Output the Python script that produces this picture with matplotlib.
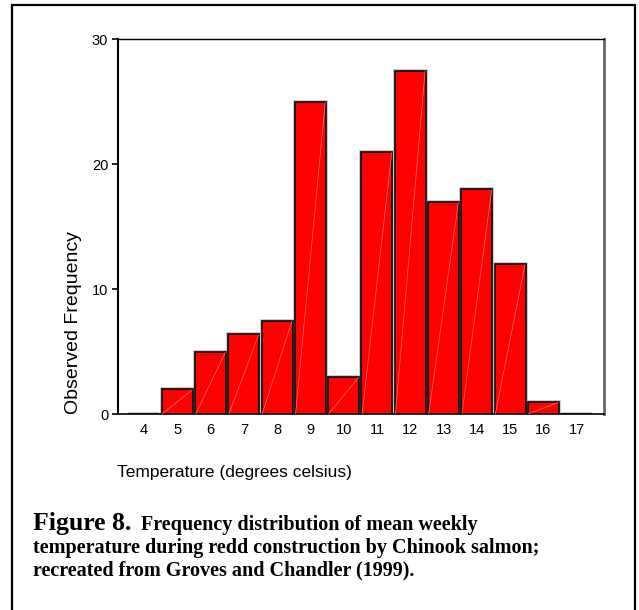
import numpy as np
import matplotlib
matplotlib.use("Agg")
import matplotlib.pyplot as plt
from matplotlib.patches import Rectangle

# weekly mean temperature (deg C) and observed frequency
temps = [4, 5, 6, 7, 8, 9, 10, 11, 12, 13, 14, 15, 16, 17]
freq = [0, 2, 5, 6.4, 7.5, 25, 3, 21, 27.5, 17, 18, 12, 1, 0]
yticks = [0, 10, 20, 30]

W, H = 639, 610
fig = plt.figure(figsize=(W/100, H/100), dpi=100)
plt.rcParams['font.family'] = ['Liberation Sans', 'DejaVu Sans']

def px(x, y):
    return x/W, 1 - y/H

l, t = px(118, 39.3)
r, b = px(604, 414.3)
ax = fig.add_axes([l, b, r-l, t-b])

bw = 0.93
x = np.array(temps)
y = np.array(freq)
# gray shadow edge, then the red bars
ax.bar(x, y, width=bw, color='none', edgecolor='#c0c0c0', linewidth=2.6, zorder=2)
ax.bar(x, y, width=bw, color='#ff0000', edgecolor='#111111', linewidth=1.3, zorder=3)
# faint diagonal seam in each bar (SPSS rendering artefact)
for xi, yi in zip(x, y):
    if yi > 0:
        ax.plot([xi - bw/2 + 0.02, xi + bw/2 - 0.02], [0.05, yi - 0.05],
                color='#ff7070', lw=0.5, zorder=4)

ax.set_xlim(3.22, 17.82)
ax.set_ylim(0, 30)
ax.set_xticks(temps)
ax.set_yticks(yticks)
ax.tick_params(axis='x', length=0, pad=6, labelsize=10.5)
ax.tick_params(axis='y', length=4, width=1.2, pad=3, labelsize=10.5)
ax.spines['left'].set_linewidth(1.5)
ax.spines['top'].set_linewidth(1.0)
ax.spines['bottom'].set_linewidth(1.2)
ax.spines['right'].set_color('#666666')
ax.spines['right'].set_linewidth(2.0)

fig.text(*px(117, 477), 'Temperature (degrees celsius)', fontsize=12.5,
         ha='left', va='baseline')
fig.text(*px(73, 323), 'Observed Frequency', fontsize=14, rotation=90,
         ha='center', va='center')

# caption
serif = ['Liberation Serif', 'DejaVu Serif']
fig.text(*px(33, 530), 'Figure 8.', fontsize=18.5, fontweight='bold',
         family=serif, ha='left', va='baseline')
fig.text(*px(141, 530), 'Frequency distribution of mean weekly', fontsize=14.5,
         fontweight='bold', family=serif, ha='left', va='baseline')
fig.text(*px(33, 553), 'temperature during redd construction by Chinook salmon;',
         fontsize=14.5, fontweight='bold', family=serif, ha='left', va='baseline')
fig.text(*px(33, 575), 'recreated from Groves and Chandler (1999).',
         fontsize=14.5, fontweight='bold', family=serif, ha='left', va='baseline')

# outer frame
x0, y0 = px(12, 5)
x1, y1 = px(635, 615)
fig.add_artist(Rectangle((x0, y1), x1 - x0, y0 - y1, transform=fig.transFigure,
                         fill=False, edgecolor='black', linewidth=1.6))

fig.savefig('out.png', dpi=100)
